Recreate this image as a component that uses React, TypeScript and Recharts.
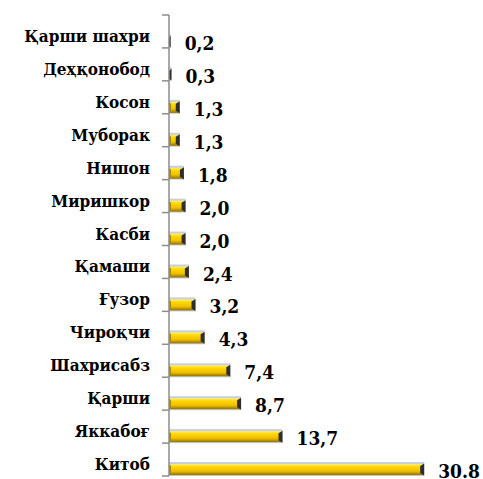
import React from "react";
import { BarChart, Bar, XAxis, YAxis, LabelList } from "recharts";

const categories = [
  "Қарши шахри",
  "Деҳқонобод",
  "Косон",
  "Муборак",
  "Нишон",
  "Миришкор",
  "Касби",
  "Қамаши",
  "Ғузор",
  "Чироқчи",
  "Шахрисабз",
  "Қарши",
  "Яккабоғ",
  "Китоб",
];
const values = [0.2, 0.3, 1.3, 1.3, 1.8, 2.0, 2.0, 2.4, 3.2, 4.3, 7.4, 8.7, 13.7, 30.8];
const valueLabels = ["0,2", "0,3", "1,3", "1,3", "1,8", "2,0", "2,0", "2,4", "3,2", "4,3", "7,4", "8,7", "13,7", "30.8"];

const data = categories.map((c, i) => ({ name: c, value: values[i], label: valueLabels[i] }));

const FONT = "'DejaVu Serif Condensed', 'DejaVu Serif', serif";
const BAR_OFFSET = 10;
const BAR_H = 14;

const GoldBar = (p: any) => {
  const { x, y, width, height } = p;
  if (!(width > 0)) return null;
  const yy = y + height / 2 + BAR_OFFSET - BAR_H / 2;
  const w = width;
  const h = BAR_H;
  const cap = Math.min(4, w);
  return (
    <g>
      <rect x={x} y={yy} width={w} height={h} fill="#c9cfda" />
      <rect x={x} y={yy + 2} width={Math.max(w - 0.5, 0)} height={h - 3} fill="url(#goldGrad)" />
      {w > 3 && <polygon points={`${x},${yy + 2} ${x + 2},${yy + 4} ${x + 2},${yy + h - 3} ${x},${yy + h - 1}`} fill="#a8860a" />}
      <polygon
        points={`${x + w - cap},${yy + 4} ${x + w},${yy + 1.5} ${x + w},${yy + h - 0.5} ${x + w - cap},${yy + h - 3}`}
        fill="#2e2e2e"
      />
    </g>
  );
};

const ValueLabel = (p: any) => {
  const { x, y, width, height, index } = p;
  return (
    <text
      x={x + width + 14}
      y={y + height / 2 + BAR_OFFSET + 2}
      fontFamily={FONT}
      fontWeight={700}
      fontSize={19}
      fill="#000"
      dominantBaseline="central"
    >
      {valueLabels[index]}
    </text>
  );
};

const CatTick = (p: any) => {
  const { x, y, payload, index } = p;
  const half = 32.93 / 2;
  return (
    <g>
      <text
        x={x - 19}
        y={y + 4.5}
        textAnchor="end"
        dominantBaseline="central"
        fontFamily={FONT}
        fontWeight={700}
        fontSize={17}
        fill="#000"
      >
        {payload.value}
      </text>
      <line x1={x - 7} x2={x} y1={y + half} y2={y + half} stroke="#8c8c8c" strokeWidth={1.5} />
      {index === 0 && <line x1={x - 7} x2={x} y1={y - half} y2={y - half} stroke="#8c8c8c" strokeWidth={1.5} />}
    </g>
  );
};

export default function App() {
  return (
    <div style={{ position: "absolute", left: 0, top: 0, width: 483, height: 479, background: "#fff" }}>
      <BarChart
        width={483}
        height={479}
        data={data}
        layout="vertical"
        margin={{ top: 15, right: 24, bottom: 3, left: 0 }}
        barCategoryGap={0}
      >
        <defs>
          <linearGradient id="goldGrad" x1="0" y1="0" x2="0" y2="1">
            <stop offset="0%" stopColor="#fff07a" />
            <stop offset="25%" stopColor="#ffd700" />
            <stop offset="65%" stopColor="#eebf00" />
            <stop offset="100%" stopColor="#8f6f00" />
          </linearGradient>
        </defs>
        <XAxis type="number" domain={[0, 35]} hide />
        <YAxis
          type="category"
          dataKey="name"
          width={169}
          axisLine={{ stroke: "#8c8c8c", strokeWidth: 1.5 }}
          tickLine={false}
          tickSize={0}
          tickMargin={0}
          tick={<CatTick />}
          interval={0}
        />
        <Bar dataKey="value" barSize={BAR_H} shape={<GoldBar />} isAnimationActive={false}>
          <LabelList dataKey="label" content={<ValueLabel />} />
        </Bar>
      </BarChart>
    </div>
  );
}
